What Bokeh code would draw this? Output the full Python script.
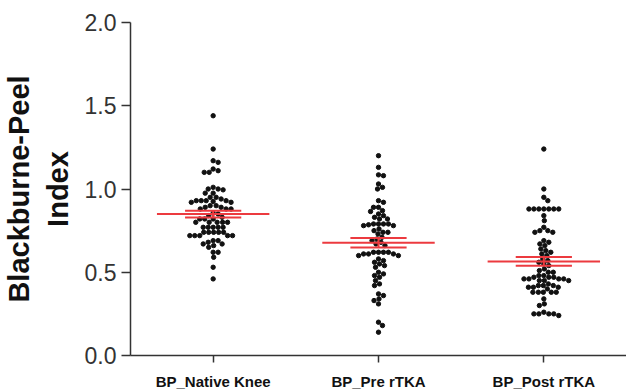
import numpy as np
from bokeh.plotting import figure
from bokeh.models import Range1d, FixedTicker
from bokeh.embed import file_html
from bokeh.resources import INLINE

categories = ["BP_Native Knee", "BP_Pre rTKA", "BP_Post rTKA"]

native_knee = [
    1.44, 1.24, 1.17, 1.16, 1.12, 1.10, 1.10, 1.11,
    1.01, 1.00, 0.995, 1.00, 0.975, 0.975,
    0.95, 0.95, 0.94, 0.93, 0.93, 0.92, 0.92, 0.925, 0.93, 0.93,
    0.90, 0.89, 0.88, 0.88, 0.88, 0.89, 0.90,
    0.84, 0.82, 0.85, 0.855, 0.83, 0.82, 0.82,
    0.80, 0.80, 0.80, 0.80, 0.80,
    0.77, 0.77, 0.77, 0.77, 0.77,
    0.74, 0.74, 0.74, 0.74, 0.74,
    0.72, 0.72, 0.72, 0.72, 0.72,
    0.69, 0.68, 0.67, 0.66, 0.65, 0.67, 0.69,
    0.62, 0.62, 0.59, 0.53, 0.46,
]

pre_rtka = [
    1.20, 1.13, 1.08, 1.085, 1.03, 1.01, 1.00,
    0.93, 0.92,
    0.89, 0.87, 0.865, 0.89,
    0.85, 0.84, 0.83, 0.82, 0.82,
    0.79, 0.79, 0.785, 0.78, 0.78, 0.79, 0.79,
    0.76, 0.75, 0.74, 0.74, 0.73,
    0.71, 0.70, 0.69, 0.68, 0.67, 0.66,
    0.62, 0.62, 0.61, 0.61, 0.60, 0.60, 0.61, 0.62, 0.62,
    0.58, 0.57, 0.56, 0.55, 0.54, 0.53,
    0.50, 0.49, 0.48, 0.47,
    0.45, 0.43, 0.42,
    0.37, 0.36, 0.34, 0.33,
    0.31,
    0.20, 0.18, 0.14,
]

post_rtka = [
    1.24, 1.00, 0.95, 0.93,
    0.88, 0.88, 0.88, 0.88, 0.88, 0.88, 0.88,
    0.84, 0.81, 0.77,
    0.75, 0.74, 0.74, 0.75,
    0.69, 0.68, 0.67, 0.66, 0.64, 0.63,
    0.62, 0.61, 0.60,
    0.58, 0.57, 0.56, 0.55, 0.54,
    0.52, 0.51, 0.50, 0.50,
    0.48, 0.47, 0.47, 0.46, 0.46, 0.46, 0.45, 0.45, 0.45, 0.46, 0.47, 0.48,
    0.43, 0.42, 0.42, 0.41, 0.41, 0.40, 0.41, 0.42,
    0.38, 0.38, 0.38, 0.38, 0.38,
    0.34, 0.31, 0.30,
    0.26, 0.25, 0.25, 0.24, 0.25, 0.25,
]

groups = [native_knee, pre_rtka, post_rtka]
y_ticks = [0.0, 0.5, 1.0, 1.5, 2.0]

W, H = 626, 392
BL, BT, BB, BR = 127, 22, 37, 0
X_END = 3.0
frame_w = W - BL - BR
frame_h = H - BT - BB
ppu_x = frame_w / X_END
ppu_y = frame_h / 2.0


def swarm(vals, diam=5.0, step=0.5):
    vals = np.asarray(vals, dtype=float)
    order = np.argsort(-vals, kind="stable")
    placed = []
    offs = np.zeros(len(vals))
    for idx in order:
        ypx = vals[idx] * ppu_y
        k = 0
        while True:
            cands = [0.0] if k == 0 else [k * step, -k * step]
            ok_c = None
            for c in cands:
                if all((c - px) ** 2 + (ypx - py) ** 2 >= diam ** 2 for px, py in placed):
                    ok_c = c
                    break
            if ok_c is not None:
                placed.append((ok_c, ypx))
                offs[idx] = ok_c / ppu_x
                break
            k += 1
    return offs


p = figure(width=W, height=H, output_backend="svg", toolbar_location=None,
           x_range=Range1d(0, X_END), y_range=Range1d(0, 2.0),
           min_border_left=BL, min_border_top=BT, min_border_bottom=BB,
           min_border_right=BR)
p.outline_line_color = None
p.grid.visible = False
p.background_fill_color = "white"
p.border_fill_color = "white"

xs, ys = [], []
for i, g in enumerate(groups):
    offs = swarm(g)
    xs.extend(list(i + 0.5 + offs))
    ys.extend(g)
p.scatter(x=xs, y=ys, size=4.4, color="#111111", line_color="#111111")

red = "#ec3a3f"
for i, g in enumerate(groups):
    arr = np.asarray(g)
    m = arr.mean()
    sem = arr.std(ddof=1) / np.sqrt(len(arr))
    c = i + 0.5
    p.segment(x0=[c - 0.34], x1=[c + 0.34], y0=[m], y1=[m], line_color=red, line_width=2)
    p.segment(x0=[c - 0.17, c - 0.17], x1=[c + 0.17, c + 0.17],
              y0=[m - sem, m + sem], y1=[m - sem, m + sem], line_color=red, line_width=2)
    p.segment(x0=[c], x1=[c], y0=[m - sem], y1=[m + sem], line_color=red, line_width=2)

xa = p.xaxis[0]
xa.ticker = FixedTicker(ticks=[i + 0.5 for i in range(len(categories))])
xa.major_label_overrides = {i + 0.5: lab for i, lab in enumerate(categories)}
xa.minor_tick_line_color = None
xa.major_tick_out = 7
xa.major_tick_in = 0
xa.axis_line_color = "#333333"
xa.axis_line_width = 1.5
xa.major_tick_line_color = "#333333"
xa.major_tick_line_width = 1.5
xa.major_label_text_font = "Liberation Sans"
xa.major_label_text_font_style = "bold"
xa.major_label_text_font_size = "15px"
xa.major_label_text_color = "#111111"
xa.major_label_standoff = 10

ya = p.yaxis[0]
ya.ticker = FixedTicker(ticks=y_ticks)
ya.major_label_overrides = {t: f"{t:.1f}" for t in y_ticks}
ya.minor_tick_line_color = None
ya.major_tick_out = 9
ya.major_tick_in = 0
ya.axis_line_color = "#333333"
ya.axis_line_width = 1.5
ya.major_tick_line_color = "#333333"
ya.major_tick_line_width = 1.5
ya.major_label_text_font = "Liberation Sans"
ya.major_label_text_font_size = "23px"
ya.major_label_text_color = "#333333"
ya.major_label_standoff = 5
ya.axis_label = "Blackburne-Peel\nIndex"
ya.axis_label_text_font = "Liberation Sans"
ya.axis_label_text_font_style = "bold"
ya.axis_label_text_font_size = "29px"
ya.axis_label_text_color = "#111111"
ya.axis_label_standoff = 8

open("out.html", "w").write(file_html(p, INLINE))
